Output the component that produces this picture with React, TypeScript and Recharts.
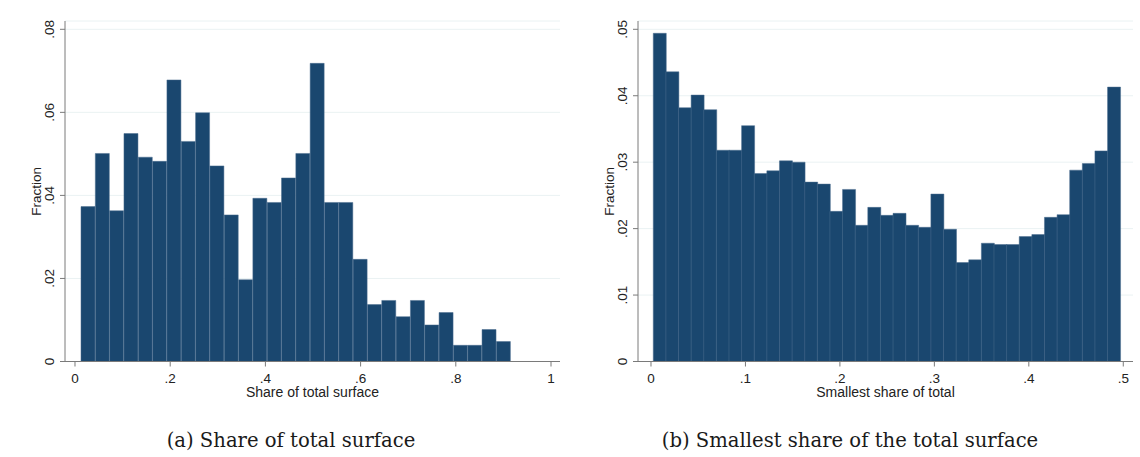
import React from "react";
import { BarChart, Bar, XAxis, YAxis, CartesianGrid, Label } from "recharts";

// (a) Share of total surface: 30 bins
const shareBinStart = 0.0126;
const shareBinWidth = 0.03009;
const shareFractions = [
  0.0373, 0.0501, 0.0363, 0.0549, 0.0492, 0.0482, 0.0678, 0.053, 0.0599, 0.0471,
  0.0353, 0.0197, 0.0393, 0.0383, 0.0442, 0.0501, 0.0718, 0.0383, 0.0383, 0.0246,
  0.0137, 0.0147, 0.0108, 0.0147, 0.0088, 0.0118, 0.0039, 0.0039, 0.0077, 0.0048,
];
const shareXTicks = [0, 0.2, 0.4, 0.6, 0.8, 1];
const shareYTicks = [0, 0.02, 0.04, 0.06, 0.08];

// (b) Smallest share of total: 37 bins
const smallBinStart = 0.0024;
const smallBinWidth = 0.01336;
const smallFractions = [
  0.0494, 0.0436, 0.0382, 0.0401, 0.0379, 0.0318, 0.0318, 0.0355, 0.0283, 0.0287,
  0.0302, 0.03, 0.027, 0.0267, 0.0226, 0.0259, 0.0205, 0.0232, 0.022, 0.0223,
  0.0205, 0.0202, 0.0252, 0.0199, 0.0149, 0.0153, 0.0178, 0.0176, 0.0176, 0.0188,
  0.0191, 0.0217, 0.0221, 0.0288, 0.0298, 0.0317, 0.0413,
];
const smallXTicks = [0, 0.1, 0.2, 0.3, 0.4, 0.5];
const smallYTicks = [0, 0.01, 0.02, 0.03, 0.04, 0.05];

const toBins = (start: number, width: number, values: number[]) =>
  values.map((fraction, i) => ({ mid: start + (i + 0.5) * width, fraction }));

// stata style numbers: 0, .2, .04, 1
const fmt = (v: number) => (v === 0 ? "0" : String(+v.toFixed(3)).replace(/^0\./, "."));

const SANS = "'Liberation Sans', Arial, sans-serif";
const AXIS = "#7a7a7a";
const INK = "#222";
const NAVY = "#1a476f";

const RotatedTick = (props: any) => {
  const { x, y, payload } = props;
  const cx = x - 10.3;
  return (
    <text
      x={cx}
      y={y}
      transform={`rotate(-90, ${cx}, ${y})`}
      textAnchor="middle"
      dominantBaseline="central"
      fontSize={13.5}
      fontFamily={SANS}
      fill={INK}
    >
      {fmt(payload.value)}
    </text>
  );
};

interface HistProps {
  data: { mid: number; fraction: number }[];
  xDomain: [number, number];
  yMax: number;
  xTicks: number[];
  yTicks: number[];
  xTitle: string;
  yAxisWidth: number;
  marginRight: number;
}

function Histogram({ data, xDomain, yMax, xTicks, yTicks, xTitle, yAxisWidth, marginRight }: HistProps) {
  return (
    <BarChart
      width={570}
      height={400}
      data={data}
      margin={{ top: 21, right: marginRight, bottom: 0, left: 0 }}
      barCategoryGap={0}
      barGap={0}
    >
      <CartesianGrid horizontal vertical={false} stroke="#eaf2f3" />
      <XAxis
        dataKey="mid"
        type="number"
        domain={xDomain}
        allowDataOverflow
        ticks={xTicks}
        tickFormatter={fmt}
        height={38.5}
        tickSize={5}
        tickMargin={7}
        stroke={AXIS}
        tick={{ fontSize: 13.5, fontFamily: SANS, fill: INK }}
      >
        <Label
          value={xTitle}
          position="insideBottom"
          offset={3}
          fontSize={14}
          fontFamily={SANS}
          fill={INK}
        />
      </XAxis>
      <YAxis
        type="number"
        domain={[0, yMax]}
        allowDataOverflow
        ticks={yTicks}
        width={yAxisWidth}
        tickSize={5}
        tickMargin={0}
        stroke={AXIS}
        tick={<RotatedTick />}
      >
        <Label
          content={({ viewBox }: any) => {
            const cx = viewBox.x + viewBox.width - 29;
            const cy = viewBox.y + viewBox.height / 2;
            return (
              <text
                x={cx}
                y={cy}
                transform={`rotate(-90, ${cx}, ${cy})`}
                textAnchor="middle"
                dominantBaseline="central"
                fontSize={13.5}
                fontFamily={SANS}
                fill={INK}
              >
                Fraction
              </text>
            );
          }}
        />
      </YAxis>
      <Bar
        dataKey="fraction"
        fill={NAVY}
        stroke="#4b6d8e"
        strokeWidth={0.5}
        isAnimationActive={false}
      />
    </BarChart>
  );
}

const captionStyle: React.CSSProperties = {
  position: "absolute",
  top: 429,
  width: 600,
  textAlign: "center",
  fontFamily: "'DejaVu Serif', serif",
  fontSize: 19.6,
  lineHeight: "24px",
  color: "#1a1a1a",
  whiteSpace: "nowrap",
};

export default function App() {
  const shareBins = toBins(shareBinStart, shareBinWidth, shareFractions);
  const smallBins = toBins(smallBinStart, smallBinWidth, smallFractions);

  return (
    <div style={{ position: "absolute", left: 0, top: 0, width: 1140, height: 457, background: "#fff" }}>
      <div style={{ position: "absolute", left: 0, top: 0 }}>
        <Histogram
          data={shareBins}
          xDomain={[-0.021, 1.0189]}
          yMax={0.082}
          xTicks={shareXTicks}
          yTicks={shareYTicks}
          xTitle="Share of total surface"
          yAxisWidth={65}
          marginRight={10}
        />
      </div>
      <div style={{ position: "absolute", left: 570, top: 0 }}>
        <Histogram
          data={smallBins}
          xDomain={[-0.01376, 0.5103]}
          yMax={0.05125}
          xTicks={smallXTicks}
          yTicks={smallYTicks}
          xTitle="Smallest share of total"
          yAxisWidth={68}
          marginRight={7}
        />
      </div>
      <div style={{ ...captionStyle, left: 291 - 300 }}>(a) Share of total surface</div>
      <div style={{ ...captionStyle, left: 850 - 300 }}>(b) Smallest share of the total surface</div>
    </div>
  );
}
